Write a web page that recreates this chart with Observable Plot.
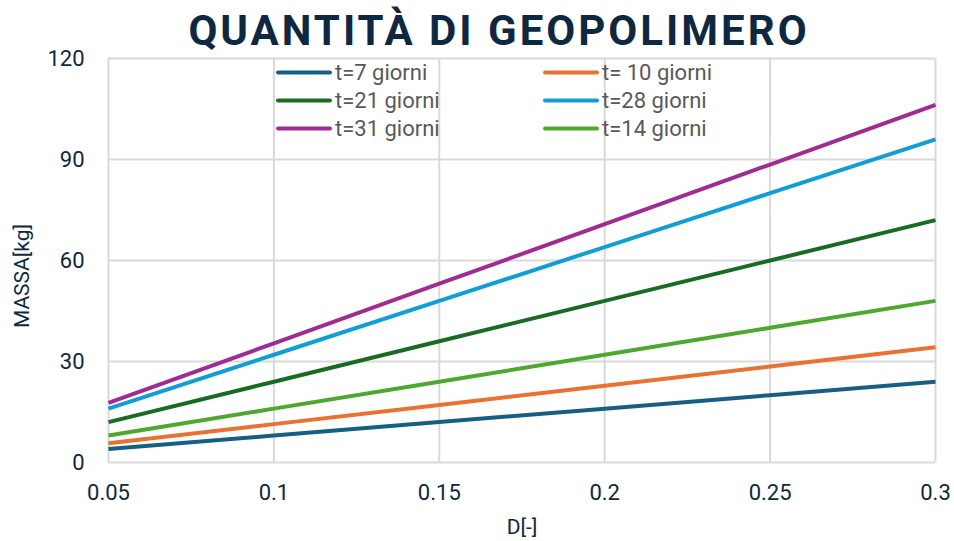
<!DOCTYPE html>
<html>
<head>
<meta charset="utf-8">
<script src="https://cdn.jsdelivr.net/npm/d3@7"></script>
<script src="https://cdn.jsdelivr.net/npm/@observablehq/plot@0.6"></script>
<style>
  body { margin: 0; background: #fff; }
  #wrap { position: relative; width: 954px; height: 541px; overflow: hidden; background: #fff; }
  #chart { position: absolute; left: 0; top: 0; }
  #title { position: absolute; top: 4px; left: 22px; width: 954px; text-align: center;
    font-family: Roboto, "Open Sans", sans-serif; font-weight: 700; font-size: 42px;
    letter-spacing: 3px; color: #0e2841; line-height: 54px; }
  .axlab { position: absolute; font-family: Roboto, sans-serif; font-size: 21px; color: #0e2841; white-space: nowrap; }
  #ylab { left: 22px; top: 276px; transform: translate(-50%, -50%) rotate(-90deg); }
  #xlab { left: 522px; top: 527px; transform: translate(-50%, -50%); }
  .leg { position: absolute; display: flex; align-items: center; font-family: Roboto, sans-serif;
    font-size: 22px; color: #595959; white-space: nowrap; transform: translateY(-50%); }
  .leg svg { margin-right: 3px; }
</style>
</head>
<body>
<div id="wrap">
  <div id="chart"></div>
  <div id="title">QUANTITÀ DI GEOPOLIMERO</div>
  <div class="axlab" id="ylab">MASSA[kg]</div>
  <div class="axlab" id="xlab">D[-]</div>
</div>
<script>
// ---- data ----
const dValues = [0.05, 0.1, 0.15, 0.2, 0.25, 0.3];
const seriesNames = ["t=7 giorni", "t= 10 giorni", "t=21 giorni", "t=28 giorni", "t=31 giorni", "t=14 giorni"];
const massT7  = [4, 8, 12, 16, 20, 24];
const massT10 = [5.7, 11.4, 17.1, 22.8, 28.5, 34.2];
const massT21 = [12, 24, 36, 48, 60, 72];
const massT28 = [16, 32, 48, 64, 80, 96];
const massT31 = [17.7, 35.4, 53.1, 70.8, 88.5, 106.2];
const massT14 = [8, 16, 24, 32, 40, 48];
const seriesColors = ["#156082", "#e97132", "#196b24", "#0f9ed5", "#a02b93", "#4ea72e"];
const xTicks = [0.05, 0.1, 0.15, 0.2, 0.25, 0.3];
const yTicks = [0, 30, 60, 90, 120];

const seriesValues = [massT7, massT10, massT21, massT28, massT31, massT14];
const rows = [];
seriesNames.forEach((name, i) => {
  dValues.forEach((d, j) => rows.push({series: name, D: d, mass: seriesValues[i][j]}));
});

const fmt = d => String(+d.toFixed(2));
const plot = Plot.plot({
  width: 954,
  height: 541,
  marginLeft: 108,
  marginRight: 19,
  marginTop: 58,
  marginBottom: 79,
  style: { fontFamily: 'Roboto, sans-serif', fontSize: "22px", color: "#0e2841", background: "#fff" },
  x: { domain: [0.05, 0.3], ticks: xTicks, tickFormat: fmt, tickSize: 0, tickPadding: 23, label: null },
  y: { domain: [0, 120], ticks: yTicks, tickSize: 0, tickPadding: 24, label: null },
  color: { domain: seriesNames, range: seriesColors },
  marks: [
    Plot.gridX(xTicks, { stroke: "#d9d9d9", strokeOpacity: 1, strokeWidth: 2 }),
    Plot.gridY(yTicks, { stroke: "#d9d9d9", strokeOpacity: 1, strokeWidth: 2 }),
    Plot.axisX({ ticks: xTicks, tickFormat: fmt, tickSize: 0, tickPadding: 22, label: null, fill: "#0e2841", fontSize: 22 }),
    Plot.axisY({ ticks: yTicks, tickSize: 0, tickPadding: 24, label: null, fill: "#0e2841", fontSize: 22 }),
    Plot.line(rows, { x: "D", y: "mass", stroke: "series", z: "series", strokeWidth: 4, strokeLinecap: "butt" })
  ]
});
document.getElementById("chart").appendChild(plot);

// legend (two columns, three rows)
const legPos = [[276, 72], [543, 72], [276, 100], [543, 100], [276, 128], [543, 128]];
const wrap = document.getElementById("wrap");
seriesNames.forEach((name, i) => {
  const div = document.createElement("div");
  div.className = "leg";
  div.style.left = legPos[i][0] + "px";
  div.style.top = legPos[i][1] + "px";
  div.innerHTML = `<svg width="56" height="8"><line x1="2" y1="4" x2="54" y2="4" stroke="${seriesColors[i]}" stroke-width="4" stroke-linecap="round"/></svg><span>${name}</span>`;
  wrap.appendChild(div);
});
</script>
</body>
</html>
